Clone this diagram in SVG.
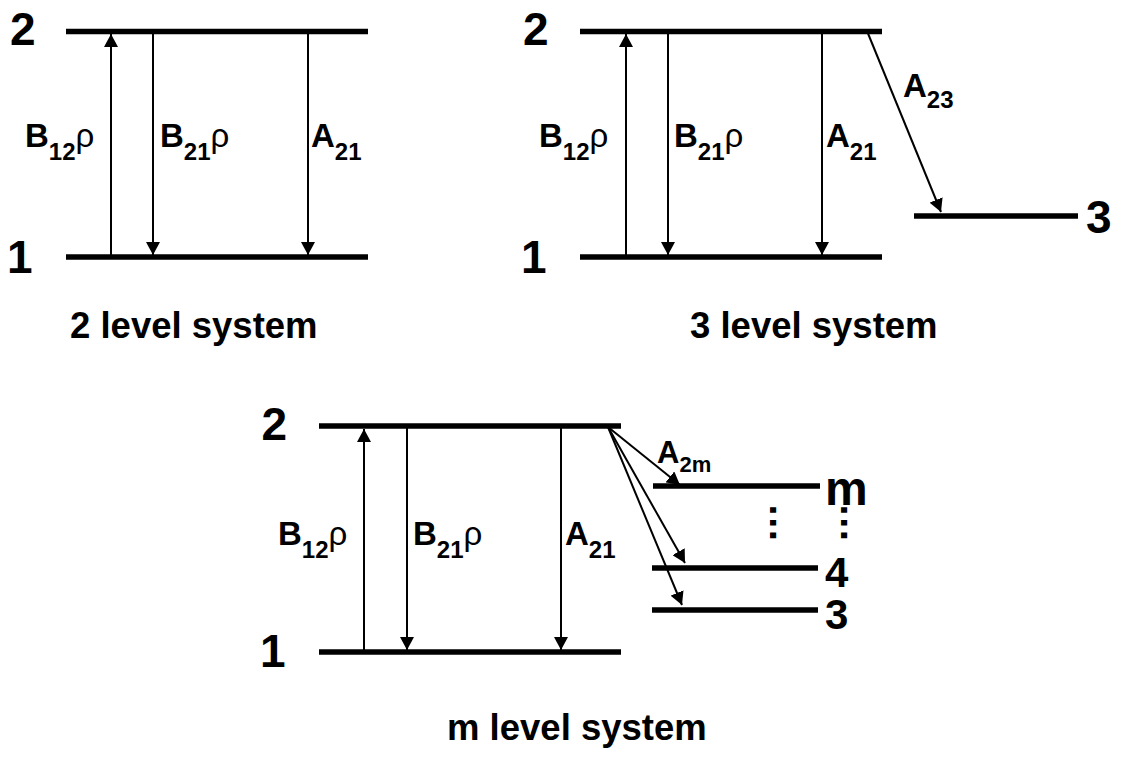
<svg xmlns="http://www.w3.org/2000/svg" width="1121" height="765" viewBox="0 0 1121 765">
<style>
.lvl{stroke:#000;stroke-width:5.5;fill:none}
.arr{stroke:#000;stroke-width:2;fill:none;marker-end:url(#ah)}
text{font-family:"Liberation Sans",Arial,sans-serif;font-weight:bold;fill:#000}
.num{font-size:46px}
.rnum{font-size:42px}
.lab{font-size:33px}
.sub{font-size:24px}
.rho{font-weight:normal}
.title{font-size:36.5px}
.dots{font-size:40px}
</style>
<defs>
<marker id="ah" viewBox="0 0 13 14" refX="13" refY="7" markerWidth="13" markerHeight="14" orient="auto" markerUnits="userSpaceOnUse">
<path d="M0,0 L13,7 L0,14 z" fill="#000"/>
</marker>
</defs>
<rect width="1121" height="765" fill="#fff"/>

<g id="sys2">
<g id="sys2-level2"><line class="lvl" x1="66" y1="31.5" x2="368" y2="31.5"/><text class="num" x="10" y="45">2</text></g>
<g id="sys2-level1"><line class="lvl" x1="66" y1="257" x2="368" y2="257"/><text class="num" x="7" y="273">1</text></g>
<text class="lab" x="25" y="147">B<tspan class="sub" dy="13">12</tspan><tspan class="rho" dy="-13">ρ</tspan></text>
<text class="lab" x="160" y="147">B<tspan class="sub" dy="13">21</tspan><tspan class="rho" dy="-13">ρ</tspan></text>
<text class="lab" x="311" y="147">A<tspan class="sub" dy="13">21</tspan></text>
<text class="title" x="70" y="338">2 level system</text>
</g>

<g id="sys3">
<g id="sys3-level2"><line class="lvl" x1="580" y1="31.5" x2="882" y2="31.5"/><text class="num" x="523" y="45">2</text></g>
<g id="sys3-level1"><line class="lvl" x1="580" y1="257" x2="882" y2="257"/><text class="num" x="521" y="273">1</text></g>
<g id="sys3-level3"><line class="lvl" x1="914" y1="216" x2="1078" y2="216"/><text class="num" x="1086" y="233">3</text></g>
<text class="lab" x="539" y="147">B<tspan class="sub" dy="13">12</tspan><tspan class="rho" dy="-13">ρ</tspan></text>
<text class="lab" x="674" y="147">B<tspan class="sub" dy="13">21</tspan><tspan class="rho" dy="-13">ρ</tspan></text>
<text class="lab" x="826" y="147">A<tspan class="sub" dy="13">21</tspan></text>
<text class="lab" x="903" y="97">A<tspan class="sub" dy="11">23</tspan></text>
<text class="title" x="690" y="338">3 level system</text>
</g>

<g id="sysm">
<g id="sysm-level2"><line class="lvl" x1="319" y1="426" x2="621" y2="426"/><text class="num" x="261.5" y="440">2</text></g>
<g id="sysm-level1"><line class="lvl" x1="319" y1="652" x2="621" y2="652"/><text class="num" x="260" y="667">1</text></g>
<g id="sysm-levelm"><line class="lvl" x1="653" y1="486" x2="820" y2="486"/><text x="825" y="505" style="font-size:48px">m</text></g>
<g id="sysm-level4"><line class="lvl" x1="652" y1="568" x2="818" y2="568"/><text class="rnum" x="825" y="587">4</text></g>
<g id="sysm-level3"><line class="lvl" x1="652" y1="610" x2="818" y2="610"/><text class="rnum" x="825" y="629">3</text></g>
<text class="dots" transform="translate(770,502.7) rotate(90)" x="0" y="0">…</text>
<text class="dots" transform="translate(840.5,502.7) rotate(90)" x="0" y="0">…</text>
<text class="lab" x="278" y="545">B<tspan class="sub" dy="13">12</tspan><tspan class="rho" dy="-13">ρ</tspan></text>
<text class="lab" x="413" y="545">B<tspan class="sub" dy="13">21</tspan><tspan class="rho" dy="-13">ρ</tspan></text>
<text class="lab" x="565" y="545">A<tspan class="sub" dy="13">21</tspan></text>
<text x="657" y="463" style="font-size:31px">A<tspan style="font-size:22px" dy="9">2m</tspan></text>
<text class="title" x="447" y="740">m level system</text>
</g>

<g id="connectors">
<line class="arr" x1="111" y1="257" x2="111" y2="34"/>
<line class="arr" x1="153" y1="31" x2="153" y2="255"/>
<line class="arr" x1="308" y1="31" x2="308" y2="255"/>
<line class="arr" x1="626" y1="257" x2="626" y2="34"/>
<line class="arr" x1="668" y1="31" x2="668" y2="255"/>
<line class="arr" x1="822" y1="31" x2="822" y2="255"/>
<line class="arr" x1="867" y1="31" x2="941" y2="212"/>
<line class="arr" x1="364" y1="652" x2="364" y2="429"/>
<line class="arr" x1="407" y1="426" x2="407" y2="650"/>
<line class="arr" x1="561" y1="426" x2="561" y2="650"/>
<line class="arr" x1="608" y1="427" x2="680" y2="485"/>
<line class="arr" x1="608" y1="427" x2="685" y2="563"/>
<line class="arr" x1="608" y1="427" x2="682" y2="605"/>
</g>
</svg>
